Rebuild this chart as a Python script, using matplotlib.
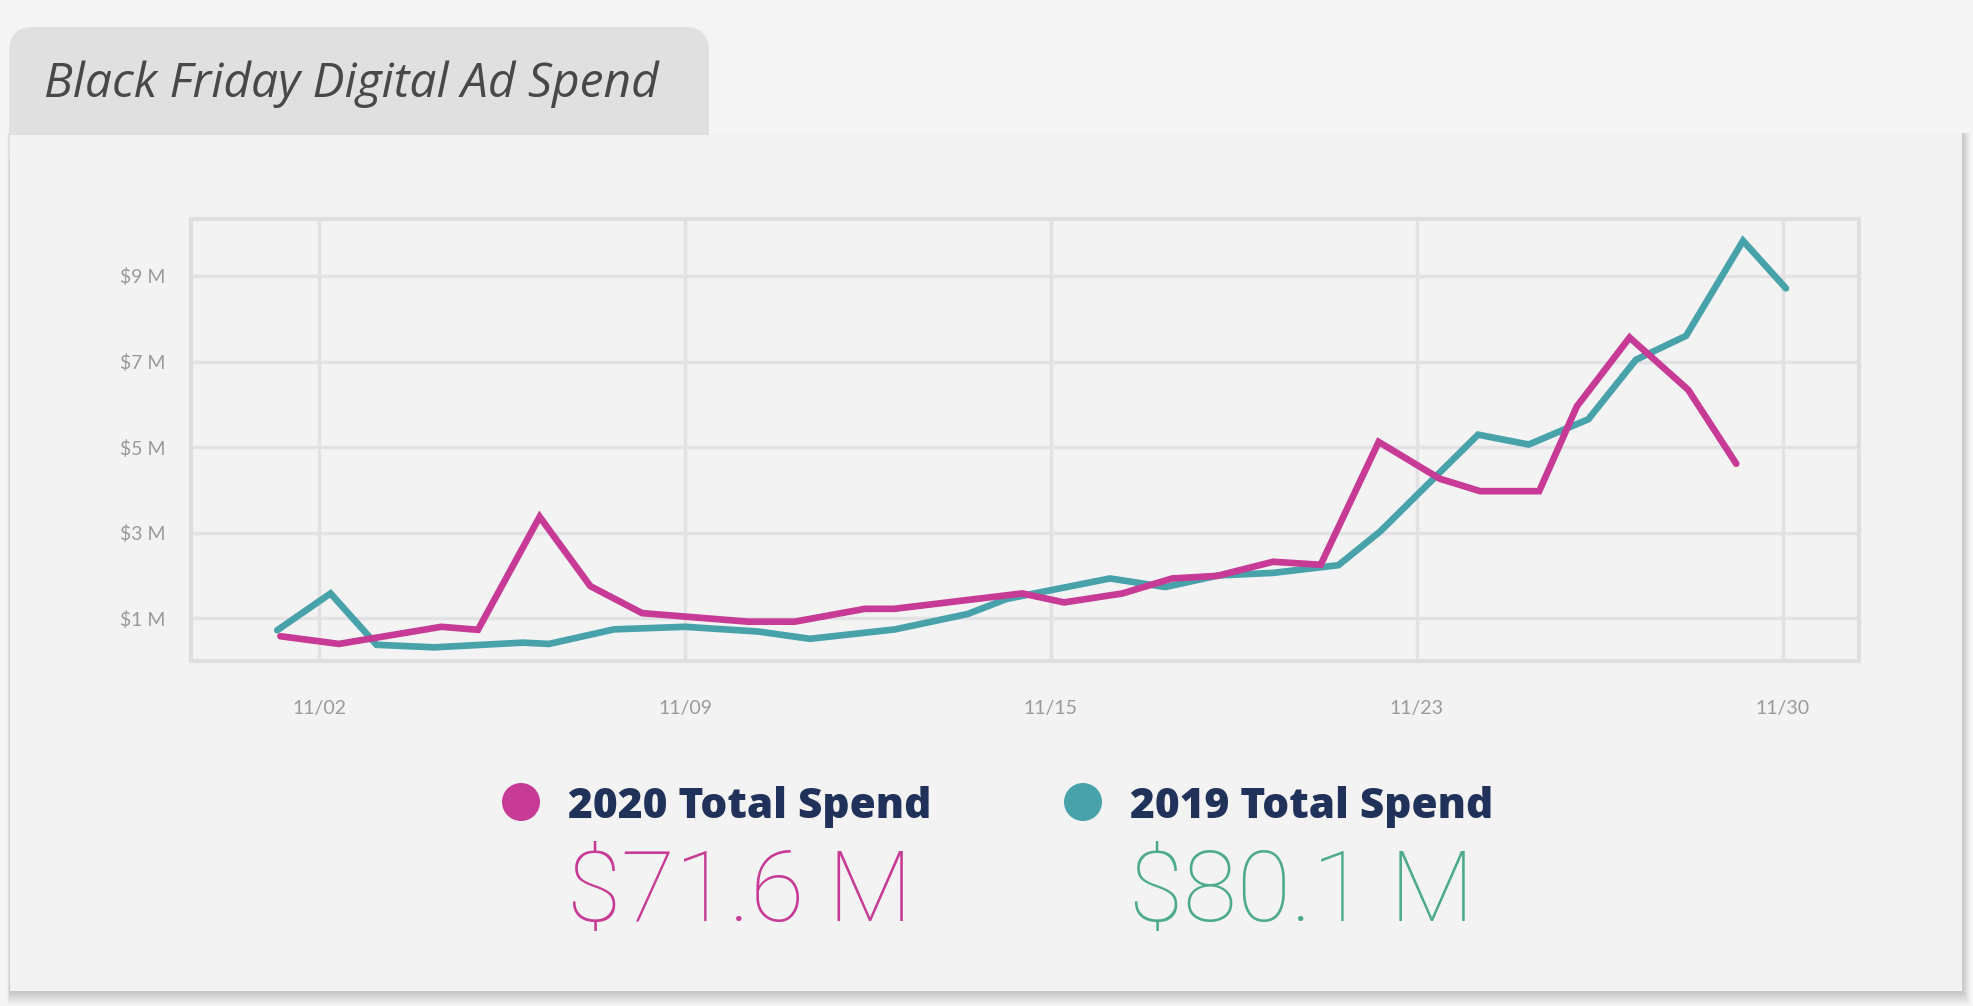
import matplotlib.pyplot as plt
from matplotlib.patches import Rectangle, FancyBboxPatch, Circle

# data (x = position on the date axis, y = spend in $M)
days_2020 = [1.26, 2.38, 4.34, 5.04, 6.22, 7.19, 8.18, 10.21, 11.1, 12.44, 13.0,
             15.45, 16.25, 17.37, 18.32, 19.18, 20.25, 21.16, 22.27, 23.44,
             24.21, 25.34, 26.06, 27.07, 28.19, 29.11]
spend_2020 = [0.58, 0.40, 0.80, 0.73, 3.37, 1.75, 1.12, 0.92, 0.92, 1.22, 1.22,
              1.58, 1.37, 1.58, 1.93, 1.99, 2.32, 2.25, 5.12, 4.26,
              3.97, 3.97, 5.95, 7.56, 6.34, 4.61]

days_2019 = [1.2, 2.22, 3.1, 4.2, 5.9, 6.4, 7.64, 9.0, 10.4, 11.39, 13.02,
             14.41, 15.15, 17.13, 18.19, 19.2, 20.25, 21.5, 22.3, 24.17,
             25.14, 26.28, 27.19, 28.15, 29.24, 30.06]
spend_2019 = [0.72, 1.58, 0.38, 0.32, 0.43, 0.40, 0.74, 0.80, 0.69, 0.52, 0.74,
              1.10, 1.45, 1.93, 1.73, 2.00, 2.06, 2.24, 3.03, 5.29,
              5.06, 5.65, 7.04, 7.60, 9.82, 8.71]

tick_days = [2, 9, 16, 23, 30]
tick_labels = ['11/02', '11/09', '11/15', '11/23', '11/30']
y_ticks = [1, 3, 5, 7, 9]
y_labels = ['$1 M', '$3 M', '$5 M', '$7 M', '$9 M']

series_names = ['2020 Total Spend', '2019 Total Spend']
totals = ['$71.6 M', '$80.1 M']

PINK = '#c73a96'
TEAL = '#48a2aa'
GREEN = '#4dab8a'
NAVY = '#21325a'
GRID = '#e2e2e4'

fig = plt.figure(figsize=(19.74, 10.06), dpi=100, facecolor='#f5f5f5')

# background card (pixel coordinates)
bg = fig.add_axes([0, 0, 1, 1], zorder=0)
bg.set_xlim(0, 1974)
bg.set_ylim(1006, 0)
bg.axis('off')

# soft shadow
for i in range(10):
    bg.add_patch(Rectangle((10 - i * 0.3, 133), 1952 + i * 1.2, 858 + i * 1.5,
                           facecolor='black', edgecolor='none', alpha=0.018))
bg.add_patch(Rectangle((10, 133), 1952, 858, facecolor='#f3f3f3', edgecolor='none'))
bg.add_patch(FancyBboxPatch((9, 27), 700, 150, boxstyle='round,pad=0,rounding_size=24',
                            facecolor='#dfe0df', edgecolor='none'))
bg.add_patch(Rectangle((10, 135), 1952, 60, facecolor='#f3f3f3', edgecolor='none'))

bg.text(44, 97, 'Black Friday Digital Ad Spend', fontsize=34.5, style='italic',
        family='Open Sans', color='#48484a', va='baseline', ha='left')

# legend / totals
for name, total, col, tcol, cx in zip(series_names, totals, [PINK, TEAL], [PINK, GREEN], [521, 1083]):
    bg.add_patch(Circle((cx, 802), 19, facecolor=col, edgecolor='none'))
    bg.text(cx + 47, 818, name, fontsize=30.5, fontweight='heavy', family='Open Sans',
            color=NAVY, va='baseline', ha='left')
    bg.text(cx + 46, 921, total, fontsize=71, fontweight=100, family='Roboto',
            color=tcol, va='baseline', ha='left')

# chart
ax = fig.add_axes([0.0970, 0.3429, 0.8448, 0.4394], zorder=1)
ax.set_facecolor('none')
ax.plot(days_2019, spend_2019, color=TEAL, lw=4.8, solid_joinstyle='miter',
        solid_capstyle='round', zorder=3)
ax.plot(days_2020, spend_2020, color=PINK, lw=4.8, solid_joinstyle='miter',
        solid_capstyle='round', zorder=4)

ax.set_xlim(-0.44, 31.46)
ax.set_ylim(0, 10.33)
ax.set_xticks(tick_days)
ax.set_xticklabels(tick_labels)
ax.set_yticks(y_ticks)
ax.set_yticklabels(y_labels)
ax.grid(True, color=GRID, lw=2.5)
ax.set_axisbelow(True)
for s in ax.spines.values():
    s.set_color('#dfdfe1')
    s.set_linewidth(3)
ax.tick_params(length=0, labelsize=14, labelcolor='#9a9a9a')
ax.tick_params(axis='y', pad=19)
ax.tick_params(axis='x', pad=28)
for lab in ax.get_xticklabels() + ax.get_yticklabels():
    lab.set_family('Lato')

fig.savefig('out.png', dpi=100, facecolor=fig.get_facecolor())
